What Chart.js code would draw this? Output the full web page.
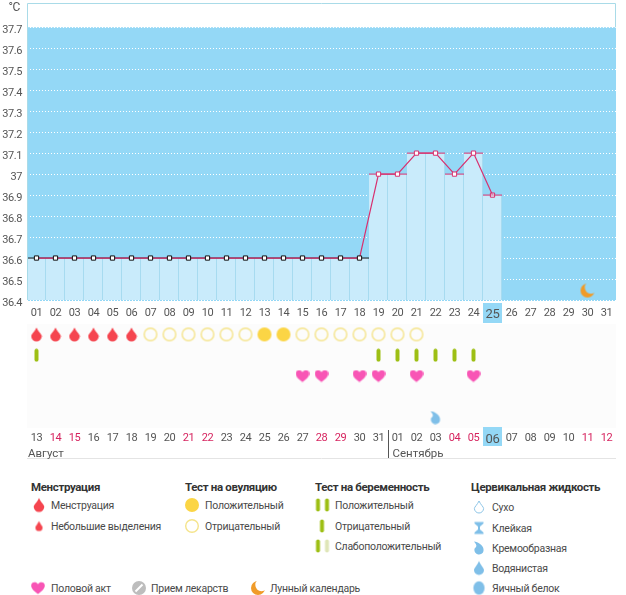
<!DOCTYPE html>
<html>
<head>
<meta charset="utf-8">
<title>График БТТ</title>
<script src="https://cdn.jsdelivr.net/npm/chart.js@4"></script>
<style>
html,body{margin:0;padding:0;background:#fff}
body{width:626px;height:595px;position:relative;overflow:hidden;font-family:Roboto,"Noto Sans",sans-serif;color:#4a4a4a}
canvas{display:block}
#wA,#wB{position:absolute;left:0}
#wA{top:0;width:626px;height:325px}
#wB{top:324px;width:626px;height:140px}
.t{position:absolute;font-size:10.5px;line-height:14px;white-space:nowrap;transform:translateY(-50%);letter-spacing:-.25px}
.h{font-weight:700;color:#333;font-size:11.5px;letter-spacing:-.35px}
.ic{position:absolute;transform:translate(-50%,-50%)}
</style>
</head>
<body>
<div id="wA"><canvas id="tempC" width="626" height="325"></canvas></div>
<div id="wB"><canvas id="symC" width="626" height="140"></canvas></div>
<div id="legend"></div>
<script>
/* данные */
const cycleDays=['01','02','03','04','05','06','07','08','09','10','11','12','13','14','15','16','17','18','19','20','21','22','23','24','25','26','27','28','29','30','31'];
const calDays=['13','14','15','16','17','18','19','20','21','22','23','24','25','26','27','28','29','30','31','01','02','03','04','05','06','07','08','09','10','11','12'];
const weekendDays=['14','15','21','22','28','29','04','05','11','12'];
const temps=[36.6,36.6,36.6,36.6,36.6,36.6,36.6,36.6,36.6,36.6,36.6,36.6,36.6,36.6,36.6,36.6,36.6,36.6,37,37,37.1,37.1,37,37.1,36.9];
const yTicks=[36.4,36.5,36.6,36.7,36.8,36.9,37,37.1,37.2,37.3,37.4,37.5,37.6,37.7];
const moonDays=[30];
const moonTemp=[36.445];
const periodDays=[1,2,3,4,5,6];
const ovuPosDays=[13,14];
const ovuNegDays=[7,8,9,10,11,12,15,16,17,18,19,20,21];
const pregNegDays=[1,19,20,21,22,23,24];
const sexDays=[15,16,18,19,21,24];
const creamyDays=[22];
const todayCycle='25', todayCal='06';
const pink='#d8306f', blue='#94d8f6', lightBar='#c9ebfb', frame='#a9dbe8', grey='#555';
const tickFont='Roboto,sans-serif';

/* иконки */
function mk(w,h,fn){
  const c=document.createElement('canvas');
  c.width=w;c.height=h;
  fn(c.getContext('2d'),w,h);
  return c;
}
function dropPath(g,cx,top,r,bottomY){
  g.beginPath();
  g.moveTo(cx,top);
  g.bezierCurveTo(cx+r*0.35,top+(bottomY-top)*0.3,cx+r,bottomY-r*1.3,cx+r,bottomY-r);
  g.arc(cx,bottomY-r,r,0,Math.PI);
  g.bezierCurveTo(cx-r,bottomY-r*1.3,cx-r*0.35,top+(bottomY-top)*0.3,cx,top);
  g.closePath();
}
const icons={
  drop:()=>mk(12,15,g=>{dropPath(g,6,0.5,5.3,14.5);g.fillStyle='#f5454f';g.fill()}),
  dropS:()=>mk(9,11,g=>{dropPath(g,4.5,0.5,3.6,10.5);g.fillStyle='#f5454f';g.fill()}),
  sun:()=>mk(16,16,g=>{g.beginPath();g.arc(8,8,7,0,7);g.fillStyle='#fbd545';g.fill()}),
  ring:()=>mk(16,16,g=>{g.beginPath();g.arc(8,8,6.3,0,7);g.strokeStyle='#f5e48c';g.lineWidth=1.4;g.stroke()}),
  bar:()=>mk(5,14,g=>{g.fillStyle='#9dbf14';g.beginPath();g.roundRect(0.5,0.5,4,13,2);g.fill()}),
  barPale:()=>mk(5,14,g=>{g.fillStyle='#dfe6b8';g.beginPath();g.roundRect(0.5,0.5,4,13,2);g.fill()}),
  heart:()=>mk(14,13,g=>{
    g.fillStyle='#f855b5';g.beginPath();g.moveTo(7,12.5);
    g.bezierCurveTo(2,9,0.2,6.5,0.2,4);g.bezierCurveTo(0.2,0.5,5,-0.5,7,2.8);
    g.bezierCurveTo(9,-0.5,13.8,0.5,13.8,4);g.bezierCurveTo(13.8,6.5,12,9,7,12.5);g.fill();
  }),
  pill:()=>mk(16,16,g=>{
    g.beginPath();g.arc(8,8,7,0,7);g.fillStyle='#bdbdbd';g.fill();
    g.strokeStyle='#fff';g.lineWidth=2;g.beginPath();g.moveTo(4.5,11.5);g.lineTo(11.5,4.5);g.stroke();
  }),
  moon:()=>mk(16,16,g=>{
    g.fillStyle='#f09b28';g.beginPath();g.arc(8,8,7,0,7);g.fill();
    g.globalCompositeOperation='destination-out';g.beginPath();g.arc(11.5,5,6.2,0,7);g.fill();
  }),
  dry:()=>mk(12,14,g=>{dropPath(g,6,1,4.6,13);g.strokeStyle='#8cc4e6';g.lineWidth=1;g.stroke()}),
  sticky:()=>mk(10,13,g=>{
    g.fillStyle='#7fbfe8';g.beginPath();g.moveTo(0.5,0.5);g.lineTo(9.5,0.5);g.lineTo(9.5,2);g.lineTo(6,5);g.lineTo(6,8);g.lineTo(9.5,11);g.lineTo(9.5,12.5);g.lineTo(0.5,12.5);g.lineTo(0.5,11);g.lineTo(4,8);g.lineTo(4,5);g.lineTo(0.5,2);g.fill();
  }),
  creamy:()=>mk(12,14,g=>{
    g.fillStyle='#7fbfe8';g.beginPath();g.moveTo(1,0.5);g.bezierCurveTo(5,1,10,4,10.5,8);g.arc(6,9,4.6,0.2,Math.PI+0.4);g.bezierCurveTo(3,6,5,5,1,0.5);g.fill();
  }),
  watery:()=>mk(12,15,g=>{dropPath(g,6,0.5,5,14.5);g.fillStyle='#7fbfe8';g.fill()}),
  egg:()=>mk(13,15,g=>{g.beginPath();g.ellipse(6.5,7.5,5.6,6.8,0,0,7);g.fillStyle='#7fbfe8';g.fill()})
};
const moonImg=icons.moon(), dropImg=icons.drop(), sunImg=icons.sun(), ringImg=icons.ring(), barImg=icons.bar(), heartImg=icons.heart(), creamyImg=icons.creamy();

/* плагины */
const tempBack={
  id:'tempBack',
  beforeDraw(ch){
    const {ctx,chartArea:a,scales:{x,y}}=ch;
    ctx.letterSpacing='-0.4px';
    // подписи оси Y в оригинале чуть ниже линий сетки
    y.getLabelItems(a).forEach(it=>{it.options.translation[1]+=3.5});
    ctx.save();
    ctx.fillStyle=blue;
    const top=y.getPixelForValue(37.7), bot=y.getPixelForValue(36.4);
    ctx.fillRect(a.left,top,a.right-a.left,bot-top+1);
    const tx=x.getPixelForValue(cycleDays.indexOf(todayCycle));
    ctx.fillRect(tx-9.5,bot+3,19,20);
    ctx.restore();
  },
  afterDraw(ch){
    const {ctx,chartArea:a,scales:{y}}=ch;
    ctx.save();
    ctx.strokeStyle=frame;
    ctx.beginPath();
    ctx.moveTo(a.left+.5,y.getPixelForValue(36.4));
    ctx.lineTo(a.left+.5,a.top+.5);
    ctx.lineTo(a.right-.5,a.top+.5);
    ctx.lineTo(a.right-.5,y.getPixelForValue(37.7));
    ctx.stroke();
    ctx.fillStyle=grey;
    ctx.font='12px '+tickFont;
    ctx.textAlign='right';
    ctx.textBaseline='middle';
    ctx.fillText('°C',20,8);
    ctx.restore();
  }
};
const symBack={
  id:'symBack',
  beforeDraw(ch){
    const {ctx,chartArea:a,scales:{x}}=ch;
    ctx.letterSpacing='-0.4px';
    ctx.save();
    ctx.fillStyle='#fcfcfc';
    ctx.fillRect(a.left,a.top,a.right-a.left,a.bottom-a.top);
    ctx.fillStyle=blue;
    const tx=x.getPixelForValue(calDays.indexOf(todayCal));
    ctx.fillRect(tx-9.5,a.bottom-1,19,19);
    ctx.restore();
  },
  afterDraw(ch){
    const {ctx,chartArea:a,scales:{x}}=ch;
    ctx.save();
    ctx.letterSpacing='0px';
    ctx.strokeStyle='#555';
    const sx=Math.round(x.getPixelForValue(calDays.indexOf('01'))-9.5)+.5;
    ctx.beginPath();ctx.moveTo(sx,a.bottom+2);ctx.lineTo(sx,a.bottom+30);ctx.stroke();
    ctx.strokeStyle='#e4e4e4';
    ctx.beginPath();ctx.moveTo(a.left,134.5);ctx.lineTo(a.right,134.5);ctx.stroke();
    ctx.fillStyle=grey;
    ctx.font='11.5px Roboto,sans-serif';
    ctx.textBaseline='middle';
    ctx.fillText('Август',a.left+1,130);
    ctx.fillText('Сентябрь',sx+4,130);
    ctx.restore();
  }
};
const noPad=s=>{s.paddingTop=0;s.paddingBottom=0;s.paddingLeft=0;s.paddingRight=0};

/* верхний график */
new Chart(document.getElementById('tempC'),{
  type:'bar',
  plugins:[tempBack],
  data:{
    labels:cycleDays,
    datasets:[
      {type:'line',order:1,data:temps,showLine:true,borderColor:pink,borderWidth:1.2,tension:0,
        pointStyle:'rect',pointRadius:3,pointBorderWidth:1,
        pointBorderColor:temps.map((v,i)=>i<18?'#111':pink),
        pointBackgroundColor:temps.map((v,i)=>i<24?'#fff':'rgba(255,255,255,.4)')},
      {type:'line',order:2,data:temps,showLine:false,pointStyle:'line',pointRadius:9.5,pointBorderWidth:1,
        pointBorderColor:temps.map((v,i)=>i<18?'#111':pink)},
      {type:'line',order:0,data:moonDays.map((d,i)=>({x:cycleDays[d-1],y:moonTemp[i]})),showLine:false,pointStyle:moonImg},
      {type:'bar',order:3,data:temps,backgroundColor:lightBar,borderColor:'#97d2ea',
        borderWidth:{right:1,left:0,top:0,bottom:0},barPercentage:1,categoryPercentage:1}
    ]
  },
  options:{
    responsive:false,animation:false,devicePixelRatio:1,
    layout:{autoPadding:false,padding:{top:3,right:10,left:0,bottom:0}},
    plugins:{legend:{display:false},tooltip:{enabled:false}},
    scales:{
      x:{offset:true,grid:{display:false,drawTicks:false},border:{display:false},
        afterFit(s){s.height=25;noPad(s)},
        ticks:{autoSkip:false,maxRotation:0,padding:7,
          color:grey,
          font:c=>({family:tickFont,size:cycleDays[c.index]===todayCycle?13:11})}},
      y:{min:36.4,max:37.8155,
        afterFit(s){s.width=27;noPad(s)},
        afterBuildTicks(s){s.ticks=yTicks.map(value=>({value}))},
        grid:{color:'#fff',drawTicks:false,lineWidth:1},
        border:{display:false,dash:[1,2]},
        ticks:{padding:5,color:grey,font:{family:tickFont,size:11},callback:v=>String(+v.toFixed(1))}}
    }
  }
});

/* нижние ряды значков */
const rowPts=(days,row)=>days.map(d=>({x:calDays[d-1],y:row}));
new Chart(document.getElementById('symC'),{
  type:'line',
  plugins:[symBack],
  data:{
    labels:calDays,
    datasets:[
      {data:rowPts(periodDays,0),showLine:false,pointStyle:dropImg},
      {data:rowPts(ovuPosDays,0),showLine:false,pointStyle:sunImg},
      {data:rowPts(ovuNegDays,0),showLine:false,pointStyle:ringImg},
      {data:rowPts(pregNegDays,1),showLine:false,pointStyle:barImg},
      {data:rowPts(sexDays,2),showLine:false,pointStyle:heartImg},
      {data:rowPts(creamyDays,4),showLine:false,pointStyle:creamyImg}
    ]
  },
  options:{
    responsive:false,animation:false,devicePixelRatio:1,
    layout:{autoPadding:false,padding:{top:0,right:10,left:0,bottom:0}},
    plugins:{legend:{display:false},tooltip:{enabled:false}},
    scales:{
      x:{offset:true,grid:{display:false,drawTicks:false},border:{display:false},
        afterFit(s){s.height=36;noPad(s)},
        ticks:{autoSkip:false,maxRotation:0,padding:4,
          color:c=>weekendDays.includes(calDays[c.index])?'#d6245f':grey,
          font:c=>({family:tickFont,size:calDays[c.index]===todayCal?13:11})}},
      y:{min:-0.5,max:4.5,reverse:true,grid:{display:false},border:{display:false},
        afterFit(s){s.width=27;noPad(s)},ticks:{display:false}}
    }
  }
});

/* легенда */
const headings=[['Менструация',31,486],['Тест на овуляцию',185,486],['Тест на беременность',315,486],['Цервикальная жидкость',471,486]];
const legendItems=[
  ['Менструация',51,505,[['drop',39]]],
  ['Небольшие выделения',51,526,[['dropS',39]]],
  ['Положительный',205,505,[['sun',192]]],
  ['Отрицательный',205,526,[['ring',192]]],
  ['Положительный',335,505,[['bar',318],['bar',327]]],
  ['Отрицательный',335,526,[['bar',322]]],
  ['Слабоположительный',335,546,[['bar',318],['barPale',327]]],
  ['Сухо',492,507,[['dry',479]]],
  ['Клейкая',492,528,[['sticky',479]]],
  ['Кремообразная',492,548,[['creamy',479]]],
  ['Водянистая',492,568,[['watery',479]]],
  ['Яичный белок',492,588,[['egg',479]]],
  ['Половой акт',51,588,[['heart',38]]],
  ['Прием лекарств',151,588,[['pill',139]]],
  ['Лунный календарь',270,588,[['moon',258]]]
];
const lg=document.getElementById('legend');
function addText(s,x,y,cls){
  const d=document.createElement('div');
  d.className=cls;d.textContent=s;d.style.left=x+'px';d.style.top=(y+1)+'px';
  lg.appendChild(d);
}
headings.forEach(h=>addText(h[0],h[1],h[2],'t h'));
legendItems.forEach(it=>{
  addText(it[0],it[1],it[2],'t');
  it[3].forEach(ic=>{
    const c=icons[ic[0]]();
    c.className='ic';c.style.left=ic[1]+'px';c.style.top=it[2]+'px';
    lg.appendChild(c);
  });
});
</script>
</body>
</html>
